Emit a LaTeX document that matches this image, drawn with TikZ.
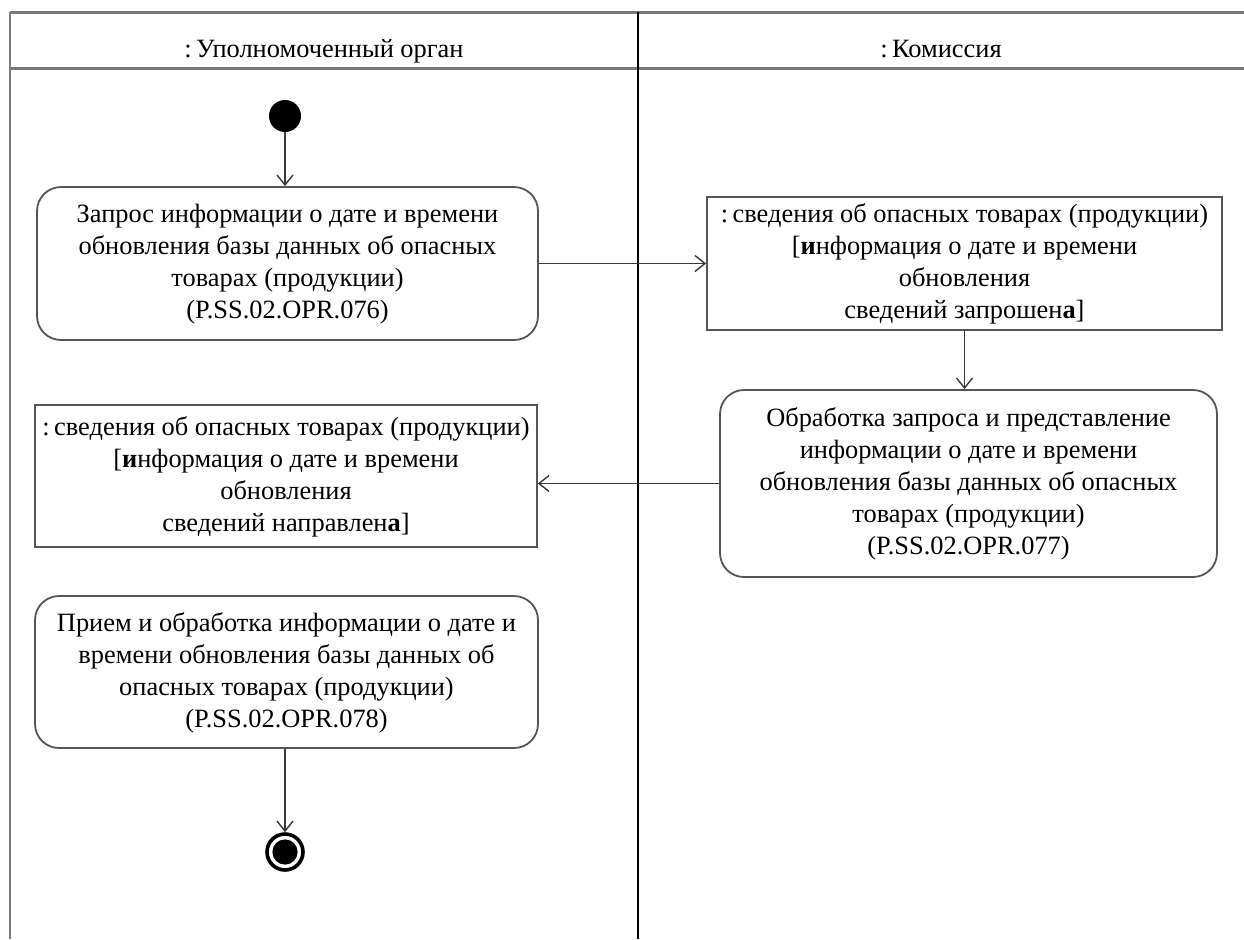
\documentclass[tikz,border=0pt]{standalone}
\usepackage{fontspec}
\setmainfont{Liberation Serif}
\usepackage{xcolor}
\usetikzlibrary{arrows.meta}
\definecolor{lane}{HTML}{7A7A7A}
\definecolor{boxline}{HTML}{555555}
\definecolor{flow}{HTML}{3A3A3A}
\tikzset{
  action/.style={
    rounded corners=12pt,
    draw=boxline,
    line width=0.9pt,
    fill=white,
    align=center,
    font=\fontsize{13.2}{16}\selectfont,
    inner sep=0pt
  },
  objectbox/.style={
    draw=boxline,
    line width=0.9pt,
    fill=white,
    align=center,
    font=\fontsize{13.2}{16}\selectfont,
    inner sep=0pt
  },
  startnode/.style={circle, fill=black, minimum size=16pt, inner sep=0pt},
  endnode/.style={circle, draw=black, line width=1.8pt, minimum size=18pt, inner sep=0pt,
    path picture={\fill[black] (path picture bounding box.center) circle (6.3pt);}},
  flowedge/.style={line width=0.7pt, draw=flow, -{Straight Barb[length=5pt, width=8pt]}},
  lanehead/.style={font=\fontsize{13.2}{16}\selectfont, anchor=base}
}

\begin{document}
\begin{tikzpicture}[x=0.5pt,y=-0.5pt]
\useasboundingbox (0,0) rectangle (1244,939);
\fill[white] (0,0) rectangle (1244,939);

% swimlanes
\draw[lane, line width=1.5pt] (10,12) -- (1244,12);
\draw[lane, line width=1.5pt] (10,68) -- (1244,68);
\draw[lane, line width=1pt] (10,12) -- (10,939);
\draw[black, line width=1pt] (638,12) -- (638,939);
\node[lanehead] (organ) at (324,57) {:\,Уполномоченный орган};
\node[lanehead] (komissia) at (941,57) {:\,Комиссия};

\node[startnode] (start) at (285,116) {};

\node[action, minimum width=250.5pt, minimum height=76.5pt, text depth=2pt] (zapros) at (287.5,263.5)
  {Запрос информации о дате и времени\\обновления базы данных об опасных\\товарах (продукции)\\ (P.SS.02.OPR.076)};
\node[objectbox, minimum width=257.5pt, minimum height=66.5pt, text depth=2pt] (svzapr) at (964.5,263.5)
  {:\,сведения об опасных товарах (продукции)\\ {[}\textbf{и}нформация о дате и времени\\обновления\\ сведений запрошен\textbf{а}{]}};
\node[action, minimum width=248.5pt, minimum height=93.5pt, text depth=2pt] (obrab) at (968.5,483.5)
  {Обработка запроса и представление\\информации о дате и времени\\обновления базы данных об опасных\\товарах (продукции)\\(P.SS.02.OPR.077)};
\node[objectbox, minimum width=251pt, minimum height=71pt, text depth=2pt] (svnapr) at (286,476)
  {:\,сведения об опасных товарах (продукции)\\ {[}\textbf{и}нформация о дате и времени\\обновления\\ сведений направлен\textbf{а}{]}};
\node[action, minimum width=251.5pt, minimum height=76pt, text depth=2pt] (priem) at (286.5,672)
  {Прием и обработка информации о дате и\\времени обновления базы данных об\\опасных товарах (продукции)\\(P.SS.02.OPR.078)};

\node[endnode] (finish) at (285,852) {};

\draw[flowedge] (start) -- (start |- zapros.north);
\draw[flowedge] (zapros.east) -- (svzapr.west);
\draw[flowedge] (svzapr.south) -- (svzapr.south |- obrab.north);
\draw[flowedge] (obrab.west) -- (obrab.west -| svnapr.east);
\draw[flowedge] (finish |- priem.south) -- (finish.north);

\end{tikzpicture}
\end{document}
